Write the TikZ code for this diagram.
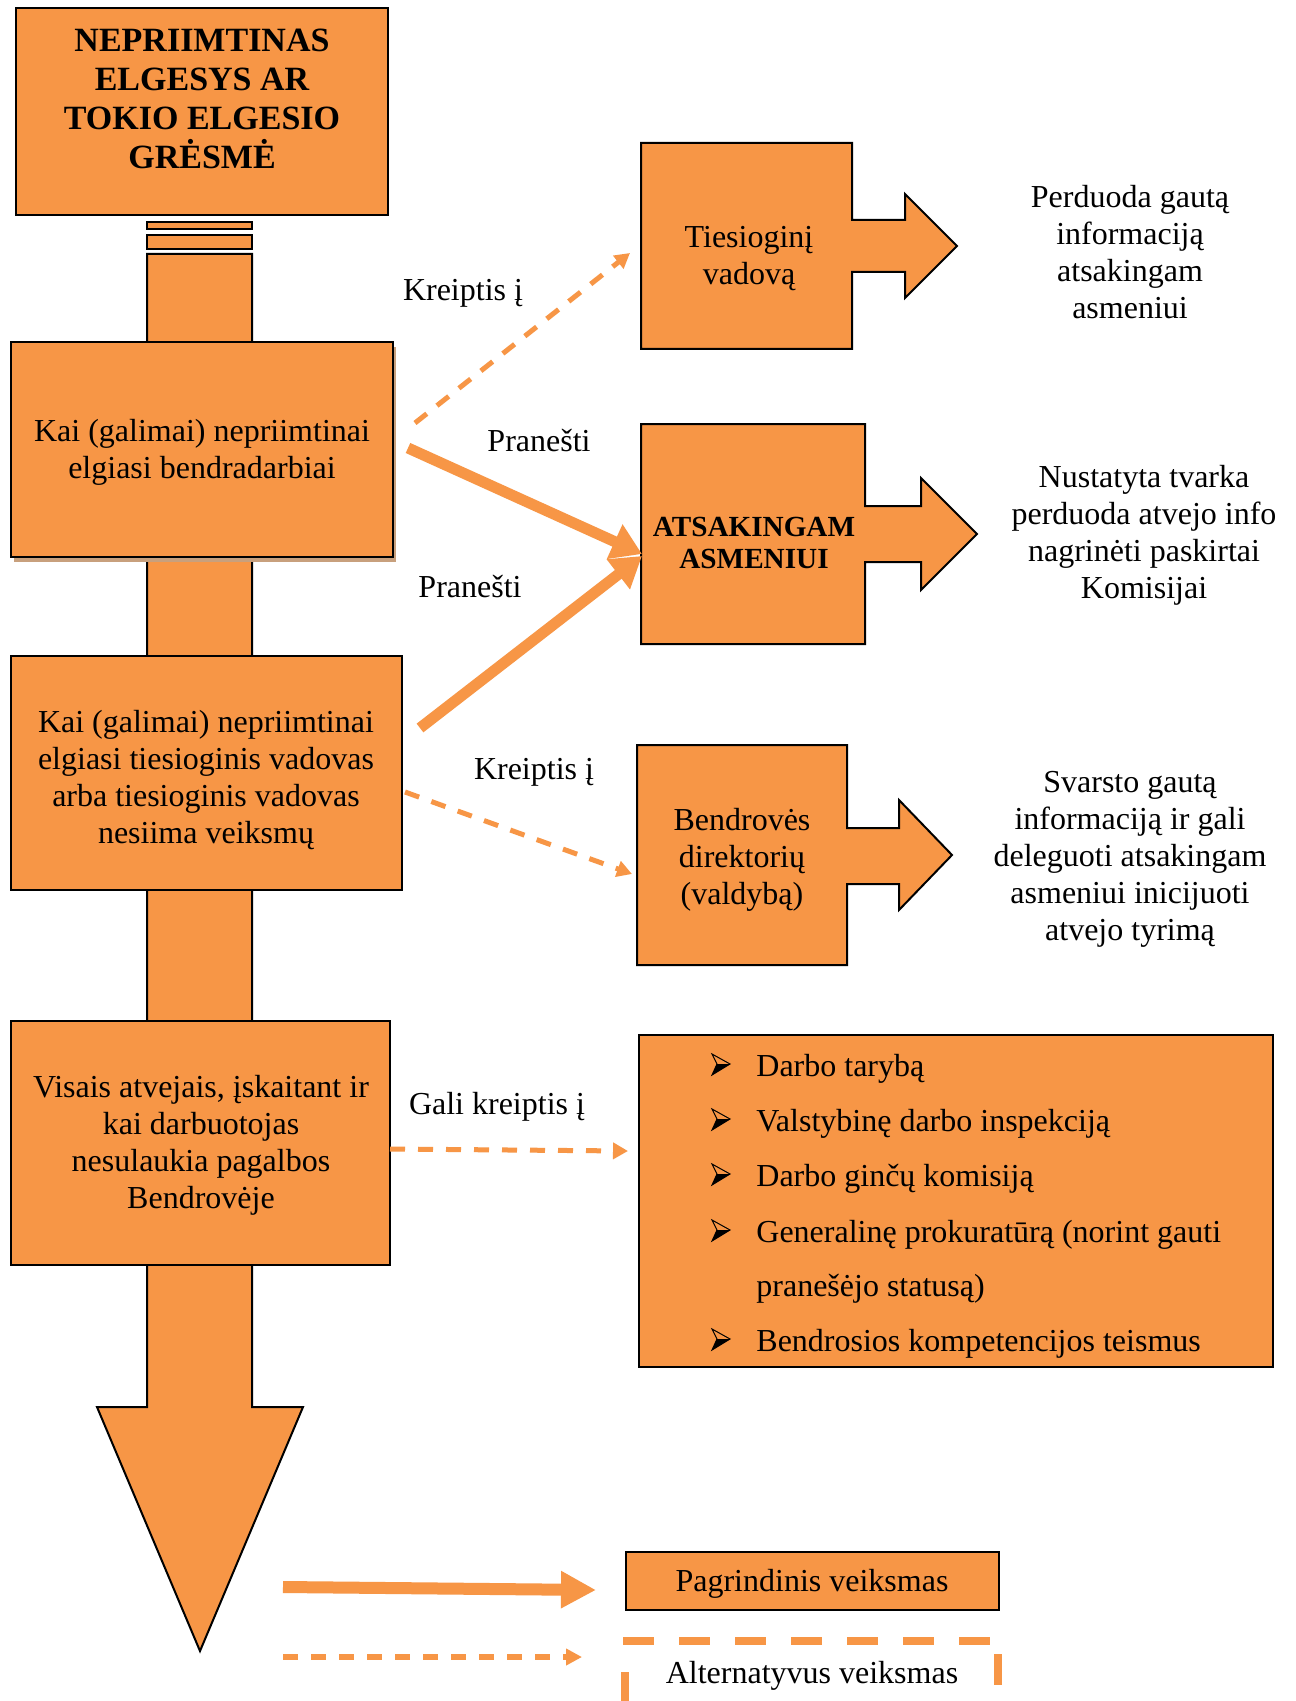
\documentclass[tikz,border=0pt]{standalone}
\usepackage{fontspec}
\setmainfont{Liberation Serif}
\usetikzlibrary{arrows.meta,fit}
\definecolor{org}{RGB}{247,150,70}
\definecolor{shd}{RGB}{200,160,125}
\begin{document}
\begin{tikzpicture}[x=0.5pt,y=-0.5pt,
  box/.style={draw=black,line width=1pt,fill=org,inner sep=0pt},
  ghost/.style={inner sep=0pt},
  txt/.style={align=center,font=\fontsize{16}{18.5}\selectfont,inner sep=0pt},
  btxt/.style={align=center,font=\fontsize{17}{19.5}\selectfont\bfseries,inner sep=0pt},
  mainarrow/.style={draw=org,line width=5.5pt,-{Triangle[length=15pt,width=18pt]}},
  altarrow/.style={draw=org,line width=2.5pt,dash pattern=on 7.5pt off 6.5pt,-{Triangle[length=7.5pt,width=8pt]}},
  arrowbul/.pic={
    \fill[black] (-4,0) -- (9,0) -- (-9,11) -- cycle;
    \draw[black,line width=0.5pt,line join=miter] (-9,-10) -- (9,0) -- (-9,11) -- (-4,0) -- cycle;
  }
]
\fill[white] (0,0) rectangle (1295,1701);
\useasboundingbox (0,0) rectangle (1295,1701);

% main flow arrow
\draw[line width=1pt,fill=org,line join=miter] (147,254) -- (252,254) -- (252,1407) -- (303,1407) -- (200,1651) -- (97,1407) -- (147,1407) -- cycle;
\draw[box] (147,222) rectangle (252,229);
\draw[box] (147,235) rectangle (252,249);

% left boxes
\node[box,fit={(16,8)(388,215)}] (top) {};
\node[btxt] (toptxt) at (202,99) {NEPRIIMTINAS\\ELGESYS AR\\TOKIO ELGESIO\\GRĖSMĖ};

\fill[shd] (14,347) rectangle (396,562);
\node[box,fit={(11,342)(393,557)}] (bend) {};
\node[txt] (bendtxt) at (202,452) {Kai (galimai) nepriimtinai\\elgiasi bendradarbiai};

\node[box,fit={(11,656)(402,890)}] (vad) {};
\node[txt] (vadtxt) at (206,780) {Kai (galimai) nepriimtinai\\elgiasi tiesioginis vadovas\\arba tiesioginis vadovas\\nesiima veiksmų};

\node[box,fit={(11,1021)(390,1265)}] (vis) {};
\node[txt] (vistxt) at (201,1145) {Visais atvejais, įskaitant ir\\kai darbuotojas\\nesulaukia pagalbos\\Bendrovėje};

% callout boxes
\draw[line width=1pt,fill=org,line join=miter] (641,143) -- (852,143) -- (852,220) -- (905,220) -- (905,194) -- (957,246) -- (905,298) -- (905,272) -- (852,272) -- (852,349) -- (641,349) -- cycle;
\node[ghost,fit={(641,143)(852,349)}] (ties) {};
\node[txt] (tiestxt) at (749,259) {Tiesioginį\\vadovą};

\draw[line width=1pt,fill=org,line join=miter] (641,424) -- (865,424) -- (865,506) -- (921,506) -- (921,478) -- (977,534) -- (921,590) -- (921,562) -- (865,562) -- (865,644) -- (641,644) -- cycle;
\node[ghost,fit={(641,424)(865,644)}] (ats) {};
\node[align=center,inner sep=0pt,font=\fontsize{14.6}{16}\selectfont\bfseries] (atstxt) at (754,543) {ATSAKINGAM\\ASMENIUI};

\draw[line width=1pt,fill=org,line join=miter] (637,745) -- (847,745) -- (847,828) -- (899,828) -- (899,800) -- (952,855) -- (899,910) -- (899,884) -- (847,884) -- (847,965) -- (637,965) -- cycle;
\node[ghost,fit={(637,745)(847,965)}] (dir) {};
\node[txt] (dirtxt) at (742,860) {Bendrovės\\direktorių\\(valdybą)};

% right texts
\node[txt] (r1) at (1130,252) {Perduoda gautą\\informaciją\\atsakingam\\asmeniui};
\node[txt] (r2) at (1144,535) {Nustatyta tvarka\\perduoda atvejo info\\nagrinėti paskirtai\\Komisijai};
\node[txt] (r3) at (1130,859) {Svarsto gautą\\informaciją ir gali\\deleguoti atsakingam\\asmeniui inicijuoti\\atvejo tyrimą};

% list box
\node[box,fit={(639,1035)(1273,1367)}] (list) {};
\node[txt,anchor=base west] (l1) at (756,1076) {Darbo tarybą};
\node[txt,anchor=base west] (l2) at (756,1131) {Valstybinę darbo inspekciją};
\node[txt,anchor=base west] (l3) at (756,1186) {Darbo ginčų komisiją};
\node[txt,anchor=base west] (l4) at (756,1242) {Generalinę prokuratūrą (norint gauti};
\node[txt,anchor=base west] (l5) at (756,1296) {pranešėjo statusą)};
\node[txt,anchor=base west] (l6) at (756,1351) {Bendrosios kompetencijos teismus};
\pic at (721,1064) {arrowbul};
\pic at (721,1119) {arrowbul};
\pic at (721,1174) {arrowbul};
\pic at (721,1230) {arrowbul};
\pic at (721,1339) {arrowbul};

% connectors
\coordinate (d1s) at (415,423); \coordinate (d1e) at (630,253);
\coordinate (m1s) at (408,448); \coordinate (m1e) at (642,554);
\coordinate (m2s) at (420,728); \coordinate (m2e) at (642,556);
\coordinate (d2s) at (405,792); \coordinate (d2e) at (632,874);
\coordinate (d3s) at (390,1149); \coordinate (d3e) at (628,1151);
\draw[altarrow] (d1s) -- (d1e);
\draw[mainarrow] (m1s) -- (m1e);
\draw[mainarrow] (m2s) -- (m2e);
\draw[altarrow] (d2s) -- (d2e);
\draw[altarrow] (d3s) -- (d3e);

% labels
\node[txt] (k1) at (463,293) {Kreiptis į};
\node[txt] (p1) at (539,441) {Pranešti};
\node[txt] (p2) at (470,587) {Pranešti};
\node[txt] (k2) at (534,772) {Kreiptis į};
\node[txt] (k3) at (497,1107) {Gali kreiptis į};

% legend
\node[box,fit={(626,1552)(999,1610)}] (pag) {};
\node[txt] (pagtxt) at (812,1584) {Pagrindinis veiksmas};
\coordinate (lms) at (283,1587); \coordinate (lme) at (596,1590);
\draw[draw=org,line width=6pt,-{Triangle[length=17.5pt,width=17.5pt]}] (lms) -- (lme);
\coordinate (lds) at (283,1657); \coordinate (lde) at (582,1657);
\draw[draw=org,line width=3pt,dash pattern=on 7.5pt off 6.5pt,-{Triangle[length=8pt,width=8pt]}] (lds) -- (lde);

\node[ghost,fit={(625,1641)(998,1701)}] (alt) {};
\begin{scope}
\clip (0,0) rectangle (1295,1701);
\draw[org,line width=4pt,dash pattern=on 15.5pt off 12.5pt] (623,1641) -- (998,1641);
\draw[org,line width=4pt,dash pattern=on 15.5pt off 12.5pt] (998,1654) -- (998,1750);
\draw[org,line width=4pt,dash pattern=on 15.5pt off 12.5pt] (625,1672) -- (625,1750);
\end{scope}
\node[txt] (alttxt) at (812,1676) {Alternatyvus veiksmas};
\end{tikzpicture}
\end{document}
